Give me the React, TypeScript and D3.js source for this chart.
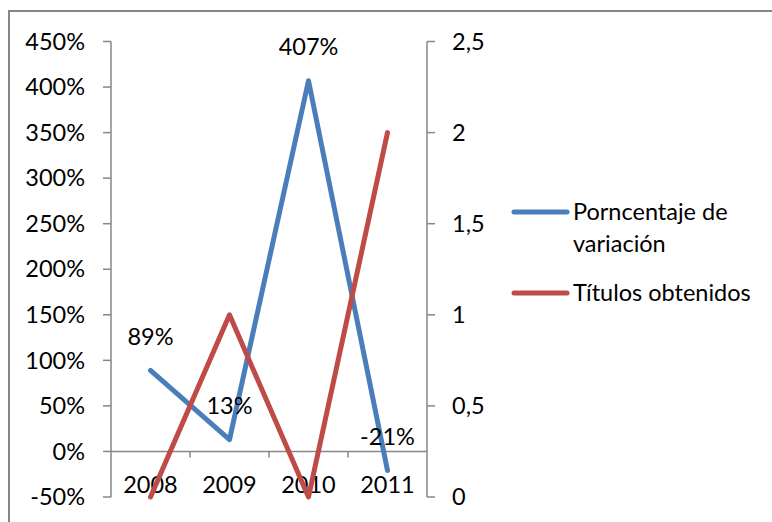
import React from "react";
import * as d3 from "d3";

const categories = ["2008", "2009", "2010", "2011"];
const variacion = [0.89, 0.13, 4.07, -0.21];
const variacionLabels = ["89%", "13%", "407%", "-21%"];
const titulos = [0, 1, 0, 2];
const leftTicks = [-0.5, 0, 0.5, 1, 1.5, 2, 2.5, 3, 3.5, 4, 4.5];
const rightTicks = [0, 0.5, 1, 1.5, 2, 2.5];
const seriesNames = ["Porncentaje de\nvariación", "Títulos obtenidos"];
const colors = ["#4a7ebb", "#be4b48"];

const W = 772;
const H = 522;
const left = 111;
const right = 427;
const top = 41.5;
const bottom = 497;
const FONT = "Lato, 'Open Sans', sans-serif";
const FS = 23.5;
const AX = "#868686";

export default function App() {
  const x = d3.scaleBand<string>().domain(categories).range([left, right]);
  const yL = d3.scaleLinear().domain([-0.5, 4.5]).range([bottom, top]);
  const yR = d3.scaleLinear().domain([0, 2.5]).range([bottom, top]);
  const cx = (c: string) => (x(c) as number) + x.bandwidth() / 2;

  const lineL = d3
    .line<number>()
    .x((_, i) => cx(categories[i]))
    .y((d) => yL(d));
  const lineR = d3
    .line<number>()
    .x((_, i) => cx(categories[i]))
    .y((d) => yR(d));

  const fmtL = (v: number) => `${Math.round(v * 100)}%`;
  const fmtR = (v: number) => String(v).replace(".", ",");
  const y0 = yL(0);

  return (
    <svg
      width={W}
      height={H}
      style={{ position: "absolute", left: 0, top: 0, display: "block" }}
      fontFamily={FONT}
    >
      <rect x={0} y={0} width={W} height={H} fill="#fff" />
      <rect x={9} y={11} width={W + 20} height={H + 20} fill="none" stroke={AX} strokeWidth={2} />

      {/* left axis */}
      <line x1={left} x2={left} y1={top} y2={bottom} stroke={AX} strokeWidth={1.5} />
      {leftTicks.map((t) => (
        <g key={"l" + t}>
          <line x1={left - 8} x2={left} y1={yL(t)} y2={yL(t)} stroke={AX} strokeWidth={1.5} />
          <text x={85} y={yL(t)} dy="0.35em" textAnchor="end" fontSize={FS} fill="#000">
            {fmtL(t)}
          </text>
        </g>
      ))}

      {/* right axis */}
      <line x1={right} x2={right} y1={top} y2={bottom} stroke={AX} strokeWidth={1.5} />
      {rightTicks.map((t) => (
        <g key={"r" + t}>
          <line x1={right} x2={right + 8} y1={yR(t)} y2={yR(t)} stroke={AX} strokeWidth={1.5} />
          <text x={452} y={yR(t)} dy="0.35em" textAnchor="start" fontSize={FS} fill="#000">
            {fmtR(t)}
          </text>
        </g>
      ))}

      {/* category axis at 0% */}
      <line x1={left} x2={right} y1={y0} y2={y0} stroke={AX} strokeWidth={1.5} />
      {categories.slice(1).map((c) => (
        <line
          key={"t" + c}
          x1={x(c) as number}
          x2={x(c) as number}
          y1={y0}
          y2={y0 + 6}
          stroke={AX}
          strokeWidth={1.5}
        />
      ))}
      {categories.map((c) => (
        <text key={"c" + c} x={cx(c)} y={485} dy="0.35em" textAnchor="middle" fontSize={FS} fill="#000">
          {c}
        </text>
      ))}

      {/* series */}
      <path d={lineL(variacion) || ""} fill="none" stroke={colors[0]} strokeWidth={5} strokeLinecap="round" strokeLinejoin="round" />
      <path d={lineR(titulos) || ""} fill="none" stroke={colors[1]} strokeWidth={5} strokeLinecap="round" strokeLinejoin="round" />

      {variacion.map((v, i) => (
        <text
          key={"d" + i}
          x={cx(categories[i])}
          y={yL(v) - 34}
          dy="0.35em"
          textAnchor="middle"
          fontSize={FS}
          fill="#000"
        >
          {variacionLabels[i]}
        </text>
      ))}

      {/* legend */}
      {seriesNames.map((name, i) => {
        const ly = i === 0 ? 212 : 293;
        const lines = name.split("\n");
        return (
          <g key={"lg" + i}>
            <line x1={514} x2={567} y1={ly} y2={ly} stroke={colors[i]} strokeWidth={5} strokeLinecap="round" />
            {lines.map((ln, j) => (
              <text key={j} x={573} y={ly + j * 32} dy="0.35em" fontSize={FS} fill="#000">
                {ln}
              </text>
            ))}
          </g>
        );
      })}
    </svg>
  );
}
